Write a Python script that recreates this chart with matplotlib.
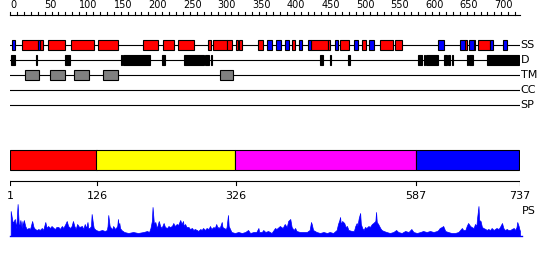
import numpy as np
import matplotlib
matplotlib.use("Agg")
import matplotlib.pyplot as plt
from matplotlib.patches import Rectangle

seq_len = 737

# secondary structure: helices (red) and strands (blue)
helices = [(18, 41), (43, 48), (55, 80), (88, 121), (127, 156), (192, 214),
           (221, 237), (243, 266), (286, 290), (293, 314), (314, 321),
           (326, 330), (331, 335), (358, 366), (408, 412), (435, 460),
           (460, 463), (477, 490), (509, 515), (534, 553), (556, 566),
           (658, 661), (670, 672), (677, 694)]
strands = [(3, 7), (41, 43), (371, 379), (385, 392), (397, 403), (417, 422),
           (431, 435), (469, 474), (497, 503), (519, 526), (619, 627),
           (651, 658), (663, 670), (694, 698), (713, 718)]
# disorder
disorder = [(1, 7), (37, 39), (79, 87), (160, 162), (164, 202), (219, 224),
            (252, 280), (282, 288), (290, 292), (448, 452), (462, 464),
            (488, 492), (589, 592), (593, 596), (598, 600), (601, 619),
            (627, 632), (633, 636), (639, 640), (660, 662), (663, 669),
            (689, 736)]
# transmembrane
tm = [(21, 42), (58, 80), (92, 114), (135, 156), (303, 322)]

track_names = ["SS", "D", "TM", "CC", "SP"]

# domain boundaries
dom_bounds = [1, 126, 326, 587, 737]
dom_colors = ["#ff0000", "#ffff00", "#ff00ff", "#0000ff"]

# PS profile (position, score)
ps_pos = [1, 4, 7, 9, 11, 13, 15, 17, 18, 19, 20, 22, 24, 27, 29, 32, 34, 36,
          39, 41, 43, 46, 48, 51, 53, 55, 58, 60, 63, 65, 67, 70, 72, 75, 77,
          80, 82, 84, 87, 89, 91, 93, 95, 97, 100, 104, 106, 108, 110, 112,
          113, 115, 117, 118, 120, 121, 124, 128, 133, 137, 140, 141, 142,
          144, 146, 148, 149, 152, 153, 155, 156, 157, 158, 159, 161, 165,
          171, 178, 185, 193, 198, 201, 203, 205, 206, 208, 210, 212, 213,
          215, 217, 219, 222, 224, 227, 229, 231, 234, 236, 238, 241, 243,
          246, 248, 250, 251, 253, 255, 258, 260, 263, 265, 267, 270, 272,
          275, 277, 279, 282, 284, 287, 289, 291, 294, 296, 298, 300, 301,
          303, 306, 307, 309, 312, 313, 315, 316, 318, 320, 325, 330, 335,
          340, 342, 344, 347, 352, 356, 359, 360, 364, 366, 369, 373, 378,
          383, 385, 390, 394, 397, 400, 402, 405, 407, 410, 412, 414, 419,
          424, 429, 433, 435, 436, 438, 443, 448, 453, 458, 462, 467, 472,
          474, 476, 477, 478, 480, 483, 485, 487, 489, 494, 497, 499, 501,
          502, 504, 506, 507, 509, 511, 513, 515, 518, 520, 523, 525, 528,
          529, 530, 532, 535, 537, 540, 544, 549, 554, 558, 561, 566, 571,
          576, 580, 583, 588, 593, 597, 602, 607, 612, 617, 619, 621, 624,
          626, 629, 633, 638, 643, 648, 653, 655, 658, 660, 662, 665, 667,
          670, 672, 674, 675, 677, 678, 680, 682, 684, 687, 689, 691, 694,
          696, 699, 701, 703, 706, 708, 711, 713, 715, 718, 720, 723, 725,
          728, 730, 732, 733, 735, 736, 737]
ps_val = [25, 13, 17, 8, 32, 8, 16, 8, 15, 9, 16, 10, 7, 8, 7, 15, 9, 7, 6,
          7, 6, 8, 6, 14, 8, 10, 8, 10, 8, 7, 9, 9, 7, 10, 8, 12, 15, 10, 8,
          10, 15, 10, 7, 12, 9, 10, 7, 12, 8, 14, 8, 8, 10, 22, 12, 8, 6, 5,
          6, 5, 6, 10, 21, 10, 8, 7, 10, 7, 8, 10, 17, 10, 13, 8, 6, 4, 3, 4,
          3, 4, 5, 4, 8, 15, 29, 12, 14, 8, 10, 15, 10, 8, 13, 9, 8, 10, 9, 10,
          13, 10, 12, 11, 16, 12, 15, 10, 12, 9, 9, 7, 8, 6, 7, 6, 5, 7, 6, 8,
          6, 8, 7, 10, 7, 9, 8, 12, 8, 9, 8, 14, 9, 8, 7, 9, 21, 10, 7, 4, 3,
          4, 3, 4, 5, 6, 3, 4, 4, 8, 4, 4, 6, 4, 5, 3, 8, 7, 10, 8, 12, 9, 15,
          17, 9, 6, 8, 5, 4, 4, 4, 6, 14, 12, 6, 4, 3, 4, 3, 4, 3, 6, 12, 16,
          19, 12, 15, 13, 9, 10, 6, 5, 5, 10, 13, 10, 18, 23, 12, 8, 6, 9, 8,
          10, 9, 12, 13, 15, 24, 14, 12, 8, 6, 5, 4, 3, 4, 6, 4, 3, 5, 4, 7, 4,
          3, 4, 5, 4, 5, 4, 5, 6, 8, 9, 10, 5, 4, 3, 3, 4, 8, 6, 6, 10, 13, 10,
          9, 8, 12, 10, 18, 30, 16, 15, 9, 8, 7, 6, 7, 6, 8, 6, 7, 8, 7, 9, 13,
          8, 6, 7, 6, 6, 7, 8, 6, 9, 14, 10, 7, 5]

W, H = 550, 260
fig = plt.figure(figsize=(W / 100, H / 100), dpi=100)
fig.patch.set_facecolor("white")

ax = fig.add_axes([10 / W, 0, 510 / W, 1])
ax.set_xlim(0, seq_len)
ax.set_ylim(H, 0)
ax.axis("off")

lw = 0.8
fs = 8

# top ruler
ax.plot([0, seq_len], [15, 15], color="black", lw=lw, clip_on=False)
for t in range(0, seq_len, 10):
    ax.plot([t, t], [12, 15], color="black", lw=lw, clip_on=False)
for t in range(0, seq_len, 50):
    ax.text(t, 10.5, str(t), ha="left", va="bottom", fontsize=7)

# tracks
rows = {name: 45 + 15 * i for i, name in enumerate(track_names)}
for name, y in rows.items():
    ax.plot([0, seq_len - 2], [y, y], color="black", lw=lw, zorder=1)
    ax.text(seq_len + 1, y, name, ha="left", va="center", fontsize=fs,
            clip_on=False)


def boxes(items, y, color):
    for s, e in items:
        ax.add_patch(Rectangle((s, y - 5), e - s, 10, facecolor=color,
                               edgecolor="black", lw=lw, zorder=2))


boxes(helices, rows["SS"], "#ff0000")
boxes(strands, rows["SS"], "#0000ff")
boxes(disorder, rows["D"], "black")
boxes(tm, rows["TM"], "#808080")

# domain bar
for i, c in enumerate(dom_colors):
    s, e = dom_bounds[i], dom_bounds[i + 1]
    ax.add_patch(Rectangle((s - 1, 150), e - s + (1 if i == 0 else 0), 20,
                           facecolor=c, edgecolor="black", lw=lw, zorder=2))

# domain ruler
ax.plot([0, seq_len], [180.5, 180.5], color="black", lw=lw)
for b in dom_bounds:
    ax.plot([b - 1 if b == 1 else b] * 2, [180.5, 185], color="black", lw=lw)
    ax.text(b, 196, str(b), ha="center", va="center", fontsize=fs)

# PS profile
ax2 = fig.add_axes([10 / W, (H - 236) / H, 510 / W, 35 / H])
ax2.set_xlim(0, seq_len)
ax2.set_ylim(0, 35)
ax2.axis("off")
ax2.fill_between(ps_pos, 0, ps_val, color="#0000ff", lw=0.5)
ax2.plot([0, seq_len + 3], [0, 0], color="#0000ff", lw=1, clip_on=False)
ax.text(seq_len + 2, 211, "PS", ha="left", va="center", fontsize=fs,
        clip_on=False)

fig.savefig("out.png", dpi=100)
